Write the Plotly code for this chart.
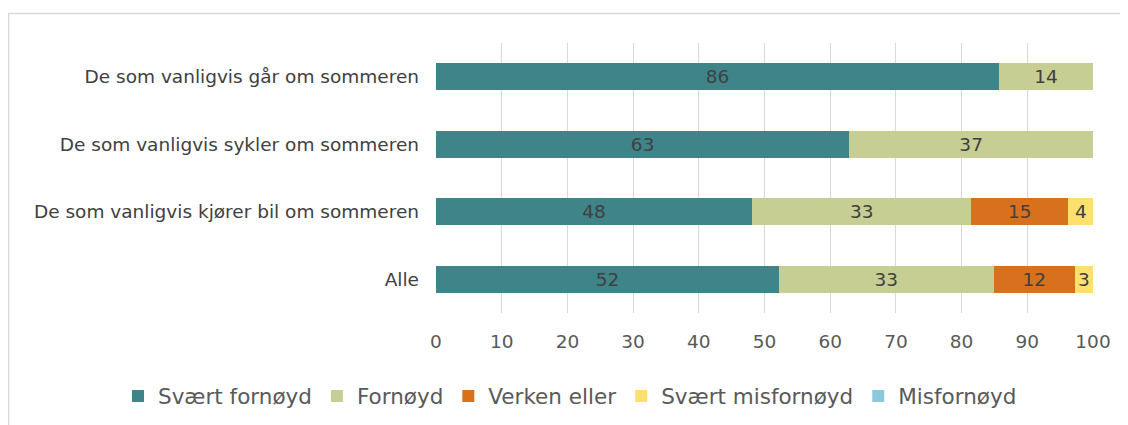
import plotly.graph_objects as go

categories = [
    "De som vanligvis går om sommeren",
    "De som vanligvis sykler om sommeren",
    "De som vanligvis kjører bil om sommeren",
    "Alle",
]
series_names = ["Svært fornøyd", "Fornøyd", "Verken eller", "Svært misfornøyd", "Misfornøyd"]
svaert_fornoyd = [85.7, 62.9, 48.1, 52.2]
fornoyd = [14.3, 37.1, 33.4, 32.7]
verken_eller = [0, 0, 14.7, 12.3]
svaert_misfornoyd = [0, 0, 3.8, 2.8]
misfornoyd = [0, 0, 0, 0]
tick_values = [0, 10, 20, 30, 40, 50, 60, 70, 80, 90, 100]

colors = ["#3E8489", "#C6CE93", "#D7711E", "#FEE06E", "#8DC9DD"]
all_series = [svaert_fornoyd, fornoyd, verken_eller, svaert_misfornoyd, misfornoyd]

FONT = "DejaVu Sans, Liberation Sans, Arial, sans-serif"
TXT_SIZE = 18.5

fig = go.Figure()
annotations = []
cum = [0.0] * len(categories)
for name, vals, col in zip(series_names, all_series, colors):
    txt = [f"{v:.0f}" if v > 0 else "" for v in vals]
    narrow = any(0 < v < 6 for v in vals)
    fig.add_trace(go.Bar(
        y=categories, x=vals, name=name, orientation="h",
        marker=dict(color=col, line=dict(width=0)),
        text=None if narrow else txt,
        textposition="none" if narrow else "inside",
        insidetextanchor="middle", textangle=0, constraintext="none",
        textfont=dict(family=FONT, size=TXT_SIZE, color="#404040"),
        cliponaxis=False,
    ))
    if narrow:
        for i, (c, v) in enumerate(zip(categories, vals)):
            if v > 0:
                annotations.append(dict(x=cum[i] + v / 2, y=c, xref="x", yref="y",
                                        text=txt[i], showarrow=False,
                                        font=dict(family=FONT, size=TXT_SIZE, color="#404040")))
    cum = [a + b for a, b in zip(cum, vals)]

# figure is drawn 8px in from the page corner
OFF = 8
W, H = 1128, 425
L, T = 436 - OFF, 43 - OFF
R = W - (1093 - OFF)
B = H - (313 - OFF)
pw, ph = W - L - R, H - T - B

def px(xs):
    return (xs - OFF - L) / pw

def py(ys):
    return (H - B - (ys - OFF)) / ph

fig.update_layout(
    width=W, height=H,
    barmode="stack", bargap=0.6,
    paper_bgcolor="white", plot_bgcolor="white",
    margin=dict(l=L, r=R, t=T, b=B, autoexpand=False),
    font=dict(family=FONT, size=18.5, color="#404040"),
    uniformtext=dict(minsize=TXT_SIZE, mode="show"),
    xaxis=dict(range=[0, 100], tickvals=tick_values, showgrid=True, gridcolor="#D9D9D9",
               gridwidth=1, zeroline=False, showline=False, ticks="", automargin=False,
               ticklabelstandoff=15,
               tickfont=dict(family=FONT, size=18.5, color="#595959"), fixedrange=True),
    yaxis=dict(autorange="reversed", showgrid=False, zeroline=False, ticks="", automargin=False,
               ticklabelstandoff=16,
               tickfont=dict(family=FONT, size=18.5, color="#404040"), fixedrange=True),
    legend=dict(orientation="h", x=px(118), xanchor="left",
                y=py(396), yanchor="middle", font=dict(family=FONT, size=21.5, color="#595959"),
                traceorder="normal"),
    annotations=annotations,
    shapes=[dict(type="rect", xref="paper", yref="paper",
                 x0=px(8.5), x1=px(1150), y0=py(13.5), y1=py(450),
                 line=dict(color="#D9D9D9", width=1.5), fillcolor="rgba(0,0,0,0)", layer="below")],
    showlegend=True,
)

fig.write_html("out.html")
